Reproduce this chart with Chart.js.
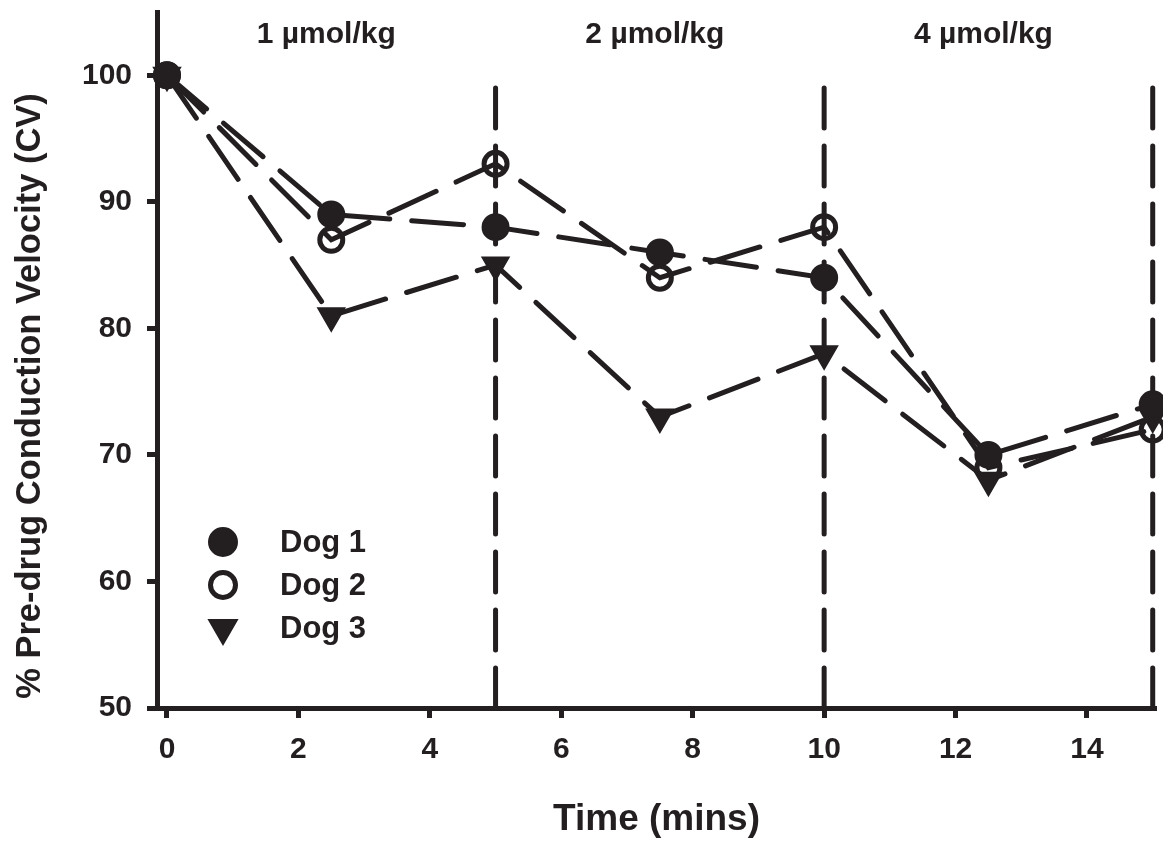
<!DOCTYPE html>
<html>
<head>
<meta charset="utf-8">
<script src="https://cdn.jsdelivr.net/npm/chart.js@4/dist/chart.umd.min.js"></script>
<style>
  body { margin: 0; background: #fff; }
  canvas { display: block; }
</style>
</head>
<body>
<canvas id="cvChart" width="1163" height="846"></canvas>
<script>
const times = [0, 2.5, 5, 7.5, 10, 12.5, 15];
const dog1 = [100, 89, 88, 86, 84, 70, 74];
const dog2 = [100, 87, 93, 84, 88, 69, 72];
const dog3 = [100, 81, 85, 73, 78, 68, 73];
const seriesNames = ['Dog 1', 'Dog 2', 'Dog 3'];

const xTicks = [0, 2, 4, 6, 8, 10, 12, 14];
const yTicks = [50, 60, 70, 80, 90, 100];

// dose periods: boundaries (dashed lines at 5, 10, 15) and their labels
const doseBounds = [0, 5, 10, 15];
const doseLabels = ['1 µmol/kg', '2 µmol/kg', '4 µmol/kg'];

const INK = '#231f20';
const FONT = '"Liberation Sans", Arial, Helvetica, sans-serif';

function series(label, values, extra) {
  return Object.assign({
    label: label,
    data: times.map((t, i) => ({ x: t, y: values[i] })),
    borderColor: INK,
    backgroundColor: INK,
    borderWidth: 5,
    borderDash: [52, 22],
    borderCapStyle: 'round',
    tension: 0,
    clip: false,
    pointBorderColor: INK,
    pointBackgroundColor: INK
  }, extra);
}

const datasets = [
  series(seriesNames[0], dog1, { pointStyle: 'circle', pointRadius: 13, pointBorderWidth: 2 }),
  series(seriesNames[1], dog2, { pointStyle: 'circle', pointRadius: 11.5, pointBorderWidth: 5, pointBackgroundColor: 'rgba(0,0,0,0)' }),
  series(seriesNames[2], dog3, { pointStyle: 'triangle', pointRotation: 180, pointRadius: 15, pointBorderWidth: 2 })
];

// vertical dashed dose lines + dose labels
const dosePlugin = {
  id: 'doses',
  beforeDatasetsDraw(chart) {
    const { ctx, scales: { x, y } } = chart;
    ctx.save();
    ctx.strokeStyle = INK;
    ctx.lineWidth = 5;
    ctx.lineCap = 'round';
    ctx.setLineDash([40, 18]);
    doseBounds.slice(1).forEach(b => {
      const px = x.getPixelForValue(b);
      ctx.beginPath();
      ctx.moveTo(px, y.getPixelForValue(50));
      ctx.lineTo(px, y.getPixelForValue(100.2));
      ctx.stroke();
    });
    ctx.setLineDash([]);
    ctx.fillStyle = INK;
    ctx.font = 'bold 30px ' + FONT;
    ctx.textAlign = 'center';
    ctx.textBaseline = 'alphabetic';
    doseLabels.forEach((lab, i) => {
      const mid = (doseBounds[i] + doseBounds[i + 1]) / 2;
      ctx.fillText(lab, x.getPixelForValue(mid) - 5, chart.chartArea.top + 31);
    });
    ctx.restore();
  },
  afterDraw(chart) {
    const { ctx, chartArea } = chart;
    // y axis title
    ctx.save();
    ctx.fillStyle = INK;
    ctx.font = 'bold 34.5px ' + FONT;
    ctx.textAlign = 'center';
    ctx.textBaseline = 'middle';
    ctx.translate(30, (chartArea.top + chartArea.bottom) / 2 + 36);
    ctx.rotate(-Math.PI / 2);
    ctx.fillText('% Pre-drug Conduction Velocity (CV)', 0, 0);
    ctx.restore();

    // legend inside the plot, lower left
    ctx.save();
    ctx.font = 'bold 31px ' + FONT;
    ctx.textAlign = 'left';
    ctx.textBaseline = 'middle';
    chart.data.datasets.forEach((ds, i) => {
      const cy = chartArea.bottom - 166 + i * 43;
      const cx = chartArea.left + 66;
      ctx.fillStyle = ds.pointBackgroundColor;
      ctx.strokeStyle = INK;
      ctx.lineWidth = ds.pointBorderWidth;
      Chart.helpers.drawPoint(ctx, {
        pointStyle: ds.pointStyle,
        radius: ds.pointRadius + 1,
        rotation: ds.pointRotation || 0,
        borderWidth: ds.pointBorderWidth
      }, cx, cy);
      ctx.fillStyle = INK;
      ctx.fillText(ds.label, chartArea.left + 123, cy + 1);
    });
    ctx.restore();
  }
};

new Chart(document.getElementById('cvChart').getContext('2d'), {
  type: 'line',
  data: { datasets: datasets },
  options: {
    responsive: false,
    animation: false,
    devicePixelRatio: 1,
    layout: { autoPadding: false, padding: { top: 12, right: 7, left: 0, bottom: 0 } },
    plugins: {
      legend: { display: false },
      tooltip: { enabled: false }
    },
    scales: {
      x: {
        type: 'linear',
        min: -0.152,
        max: 15.05,
        afterBuildTicks: s => { s.ticks = xTicks.map(v => ({ value: v })); },
        afterFit: s => { s.height = 138; s.paddingLeft = 0; s.paddingRight = 0; },
        border: { display: true, width: 5, color: INK },
        grid: { drawOnChartArea: false, drawTicks: true, tickLength: 10, tickWidth: 5, tickColor: INK },
        ticks: { color: INK, padding: 14, maxRotation: 0, font: { family: FONT, size: 30, weight: 'bold' } },
        title: {
          display: true,
          text: 'Time (mins)',
          color: INK,
          padding: { top: 0, bottom: 4 },
          font: { family: FONT, size: 37, weight: 'bold' }
        }
      },
      y: {
        min: 50,
        max: 105,
        afterBuildTicks: s => { s.ticks = yTicks.map(v => ({ value: v })); },
        afterFit: s => { s.width = 157; s.paddingTop = 0; s.paddingBottom = 0; },
        border: { display: true, width: 5, color: INK },
        grid: { drawOnChartArea: false, drawTicks: true, tickLength: 10, tickWidth: 5, tickColor: INK },
        ticks: { color: INK, padding: 15, font: { family: FONT, size: 30, weight: 'bold' } }
      }
    }
  },
  plugins: [dosePlugin]
});
</script>
</body>
</html>
